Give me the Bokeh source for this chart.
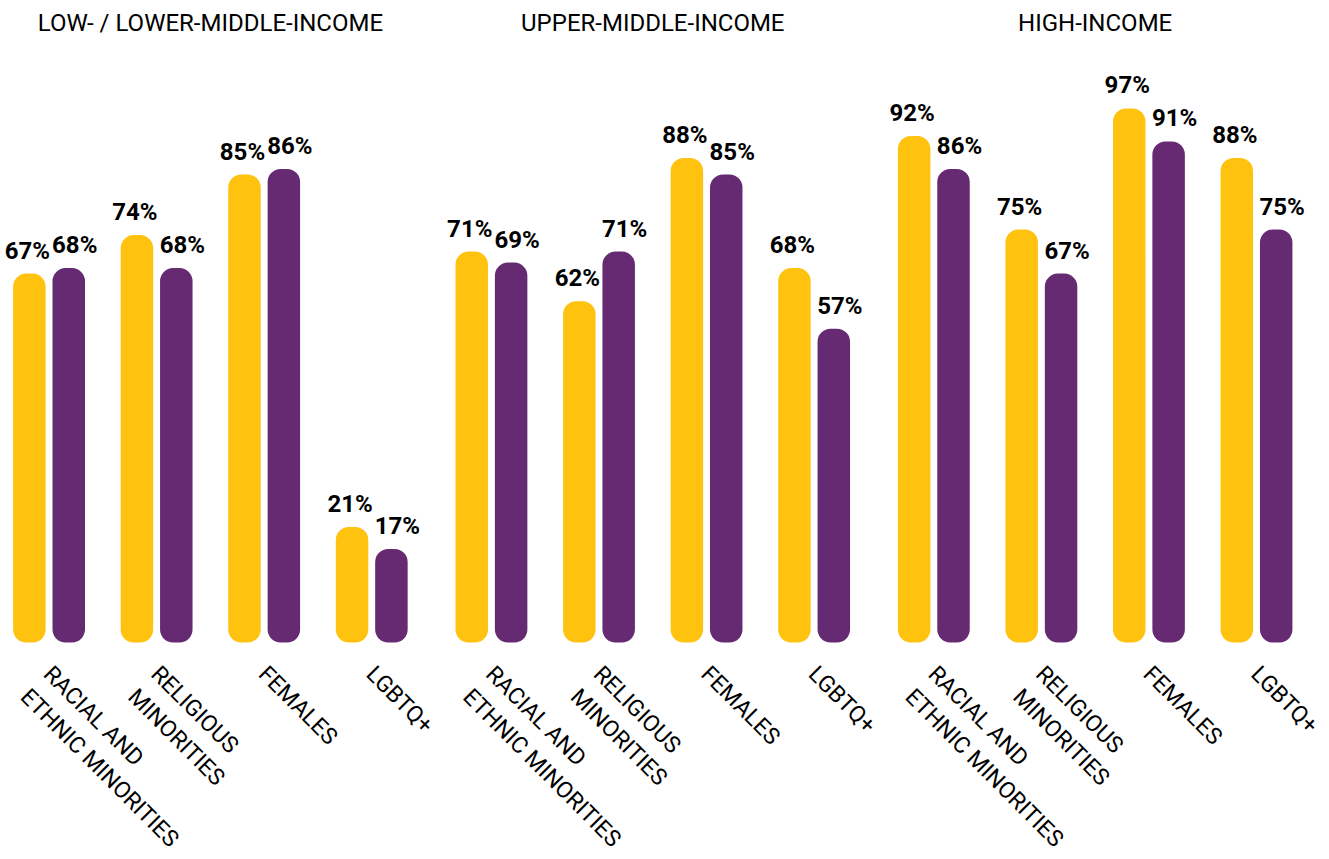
import math
from bokeh.plotting import figure
from bokeh.models import FactorRange, Range1d, ColumnDataSource, LabelSet
from bokeh.transform import dodge
from bokeh.core.properties import value
from bokeh.embed import file_html
from bokeh.resources import INLINE

panels = ["LOW- / LOWER-MIDDLE-INCOME", "UPPER-MIDDLE-INCOME", "HIGH-INCOME"]
categories = ["RACIAL AND\nETHNIC MINORITIES", "RELIGIOUS\nMINORITIES", "FEMALES", "LGBTQ+"]
series_yellow = [67, 74, 85, 21, 71, 62, 88, 68, 92, 75, 97, 88]
series_purple = [68, 68, 86, 17, 69, 71, 85, 57, 86, 67, 91, 75]

YELLOW = "#FFC20E"
PURPLE = "#662A72"
FONT = "Roboto"

factors = [(pn, c) for pn in panels for c in categories]
src = ColumnDataSource(dict(
    x=factors,
    a=series_yellow,
    b=series_purple,
    la=[f"{v}%" for v in series_yellow],
    lb=[f"{v}%" for v in series_purple],
))

# layout: the frame fills the whole figure so that rotated labels and titles are not clipped
x_range = FactorRange(*factors, factor_padding=0, group_padding=0.113,
                      range_padding=0.0465, range_padding_units="absolute")
y_range = Range1d(-39.4, 116.6)
shift = -0.095      # horizontal nudge of the whole chart (layout only)
off = 0.183         # half distance between the paired bars
bw = 0.302          # bar width

p = figure(width=1325, height=859, x_range=x_range, y_range=y_range,
           output_backend="svg", toolbar_location=None,
           x_axis_location=None, y_axis_location=None,
           min_border=0)
p.outline_line_color = None
p.xgrid.grid_line_color = None
p.ygrid.grid_line_color = None

p.vbar(x=dodge("x", shift - off, range=p.x_range), top="a", width=bw, source=src,
       fill_color=YELLOW, line_color=None, border_radius=13)
p.vbar(x=dodge("x", shift + off, range=p.x_range), top="b", width=bw, source=src,
       fill_color=PURPLE, line_color=None, border_radius=13)

for col, lab, dx, xo in (("a", "la", shift - off, -2), ("b", "lb", shift + off, 6)):
    p.text(x=dodge("x", dx, range=p.x_range), y=col, text=lab, source=src,
           text_align="center", text_baseline="alphabetic", x_offset=xo, y_offset=-23,
           text_font=value(FONT), text_font_style="bold", text_font_size="24px",
           text_color="#000000")

# category labels, rotated, hanging below the zero line
baseline = 0
cat_src = ColumnDataSource(dict(
    x=factors,
    y=[baseline] * len(factors),
    text=[c for _ in panels for c in categories],
))
p.add_layout(LabelSet(x=dodge("x", shift, range=p.x_range), y="y", text="text", source=cat_src,
                      angle=-math.pi / 4, text_align="left", text_baseline="top",
                      x_offset=8, y_offset=-18,
                      text_font=value(FONT), text_font_size=value("23px"),
                      text_color="#000000"))

# panel titles above each group
title_src = ColumnDataSource(dict(
    x=panels,
    y=[y_range.end] * len(panels),
    text=panels,
))
p.add_layout(LabelSet(x=dodge("x", shift, range=p.x_range), y="y", text="text", source=title_src,
                      text_align="center", text_baseline="middle", y_offset=-22,
                      text_font=value(FONT), text_font_size=value("24px"),
                      text_color="#000000"))

open("out.html", "w").write(file_html(p, INLINE))
